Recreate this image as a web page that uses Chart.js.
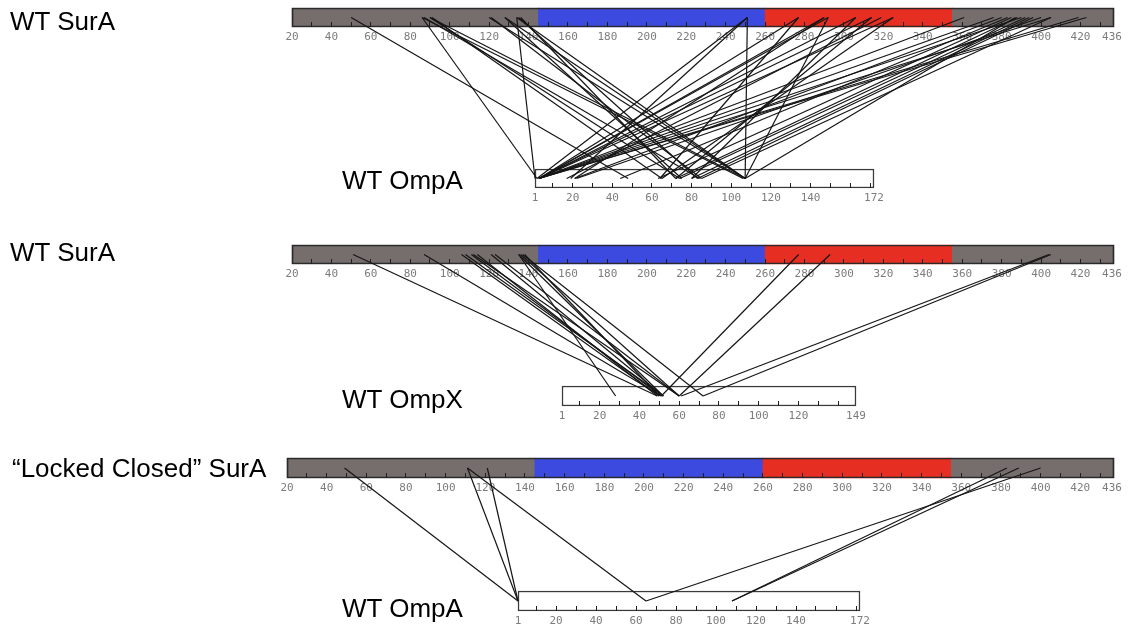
<!DOCTYPE html>
<html>
<head>
<meta charset="utf-8">
<title>SurA crosslinks</title>
<script src="https://cdn.jsdelivr.net/npm/chart.js@4"></script>
<style>
  html, body { margin: 0; padding: 0; background: #fff; }
  #wrap { position: relative; width: 1129px; height: 629px; overflow: hidden; }
  #map { position: absolute; left: 0; top: 0; }
  .name { position: absolute; font-family: "Liberation Sans", Arial, sans-serif; font-size: 26px; line-height: 26px; color: #000; white-space: nowrap; }
</style>
</head>
<body>
<div id="wrap">
  <canvas id="map" width="1129" height="629"></canvas>
  <div class="name" style="left:10px; top:8px">WT SurA</div>
  <div class="name" style="left:342px; top:167px">WT OmpA</div>
  <div class="name" style="left:10px; top:239px">WT SurA</div>
  <div class="name" style="left:342px; top:386px">WT OmpX</div>
  <div class="name" style="left:12px; top:455px">“Locked Closed” SurA</div>
  <div class="name" style="left:342px; top:595px">WT OmpA</div>
</div>
<script>
// residue ranges of the constructs
const surARange = [20, 437];
const ompARange = [1, 172];
const ompXRange = [1, 149];

// SurA domain boundaries: N-term | P1 | P2 | C-term
const surADomains = [20, 145, 260, 355, 437];

// axis labels
const surATickLabels = [20, 40, 60, 80, 100, 120, 140, 160, 180, 200, 220, 240, 260, 280, 300, 320, 340, 360, 380, 400, 420, 436];
const ompATickLabels = [1, 20, 40, 60, 80, 100, 120, 140, 172];
const ompXTickLabels = [1, 20, 40, 60, 80, 100, 120, 149];

// crosslinks as [SurA residue, client residue]
const wtSurA_ompA = [
  [50, 48], [86, 2], [86, 106], [87, 84], [90, 107], [90, 74], [91, 65],
  [120, 107], [121, 85], [128, 107], [128, 75], [134, 1], [134, 107], [135, 83], [136, 72],
  [251, 107], [251, 2], [251, 19], [277, 3], [277, 64], [290, 3], [290, 21], [292, 3], [292, 107],
  [306, 3], [306, 80], [314, 3], [314, 72], [319, 17], [325, 3], [325, 65], [361, 3],
  [376, 3], [380, 21], [383, 44], [385, 63], [387, 107], [388, 72], [390, 3], [392, 74],
  [394, 80], [396, 83], [400, 22], [405, 3], [405, 85], [419, 3], [423, 3]
];
const wtSurA_ompX = [
  [51, 49], [87, 51], [106, 50], [108, 52], [111, 51], [112, 60], [114, 49], [121, 52],
  [123, 60], [135, 28], [135, 52], [136, 60], [137, 72], [138, 50], [277, 51], [293, 60],
  [404, 61], [405, 72]
];
const closedSurA_ompA = [
  [49, 1], [111, 1], [111, 65], [121, 1], [383, 108], [389, 108], [400, 65]
];

const W = 1129, H = 629;
const domainColors = ['#756e6c', '#3c4ae0', '#e62e22', '#756e6c'];

// where each bar sits on the page (px)
const tracks = {
  xSurA1: { range: surARange, left: 292, right: 1114, top: 8, bottom: 27, labels: surATickLabels },
  xOmpA1: { range: ompARange, left: 535, right: 874, top: 169, bottom: 188, labels: ompATickLabels },
  xSurA2: { range: surARange, left: 292, right: 1114, top: 245, bottom: 264, labels: surATickLabels },
  xOmpX2: { range: ompXRange, left: 562, right: 856, top: 386, bottom: 406, labels: ompXTickLabels },
  xSurA3: { range: surARange, left: 287, right: 1114, top: 458, bottom: 478, labels: surATickLabels },
  xOmpA3: { range: ompARange, left: 518, right: 860, top: 591, bottom: 611, labels: ompATickLabels }
};
const panels = [
  { top: 'xSurA1', bottom: 'xOmpA1', links: wtSurA_ompA },
  { top: 'xSurA2', bottom: 'xOmpX2', links: wtSurA_ompX },
  { top: 'xSurA3', bottom: 'xOmpA3', links: closedSurA_ompA }
];

const TICK = 5;

function mid(t) { return (t.top + t.bottom) / 2; }

// minor tick marks every 10 residues inside the bar
function tickMarks(range) {
  const out = [];
  for (let v = Math.ceil((range[0] + 1) / 10) * 10; v < range[1]; v += 10) out.push(v);
  return out;
}

function makeScale(t) {
  const [lo, hi] = t.range;
  const per = (hi - lo) / (t.right - t.left);
  const marks = tickMarks(t.range);
  const all = Array.from(new Set(marks.concat(t.labels))).sort((a, b) => a - b);
  return {
    type: 'linear',
    axis: 'x',
    min: lo - t.left * per,
    max: hi + (W - t.right) * per,
    offset: false,
    position: { y: t.bottom - TICK },
    afterBuildTicks: s => { s.ticks = all.map(v => ({ value: v })); },
    // the axes sit inside the plot, so they must not eat layout space
    afterFit: s => {
      s.height = 0;
      s.paddingTop = s.paddingBottom = s.paddingLeft = s.paddingRight = 0;
    },
    border: { display: false },
    grid: {
      drawOnChartArea: false,
      drawTicks: true,
      tickLength: TICK,
      lineWidth: 1,
      z: 1,
      color: c => (c.tick && marks.includes(c.tick.value)) ? '#1e1e1e' : 'rgba(0,0,0,0)'
    },
    ticks: {
      autoSkip: false,
      maxRotation: 0,
      minRotation: 0,
      padding: 4,
      color: '#7c7c7c',
      font: { family: 'DejaVu Sans Mono', size: 11 },
      callback: v => t.labels.includes(v) ? String(v) : ''
    }
  };
}

// vertical page axis; bars are placed on it by their centre line
const scales = {
  y: { type: 'linear', display: false, min: 0, max: H, reverse: true, offset: false, grid: { offset: false } }
};
const datasets = [];
Object.entries(tracks).forEach(([id, t]) => {
  scales[id] = makeScale(t);
  const h = t.bottom - t.top;
  const isSurA = t.range === surARange;
  if (isSurA) {
    const segs = [];
    for (let i = 0; i < surADomains.length - 1; i++) {
      segs.push({ x: [surADomains[i], surADomains[i + 1]], y: mid(t) });
    }
    datasets.push({
      label: id + ' domains', xAxisID: id, yAxisID: 'y', data: segs,
      backgroundColor: domainColors, borderWidth: 0, barThickness: h, grouped: false, order: 3
    });
  }
  datasets.push({
    label: id, xAxisID: id, yAxisID: 'y',
    data: [{ x: t.range, y: mid(t) }],
    backgroundColor: isSurA ? 'rgba(0,0,0,0)' : '#ffffff',
    borderColor: isSurA ? '#2a2a2a' : '#3a3a3a',
    borderWidth: isSurA ? 1 : 1.5,
    borderSkipped: false,
    barThickness: h, grouped: false, order: 2
  });
});

// straight lines from the SurA residue to the client residue
const crosslinks = {
  id: 'crosslinks',
  afterDatasetsDraw(chart) {
    const ctx = chart.ctx, y = chart.scales.y;
    ctx.save();
    ctx.strokeStyle = '#151515';
    ctx.lineWidth = 1.2;
    panels.forEach(p => {
      const a = chart.scales[p.top], b = chart.scales[p.bottom];
      const y1 = y.getPixelForValue(mid(tracks[p.top]));
      const y2 = y.getPixelForValue(mid(tracks[p.bottom]));
      p.links.forEach(([ra, rb]) => {
        ctx.beginPath();
        ctx.moveTo(a.getPixelForValue(ra), y1);
        ctx.lineTo(b.getPixelForValue(rb), y2);
        ctx.stroke();
      });
    });
    ctx.restore();
  }
};

new Chart(document.getElementById('map'), {
  type: 'bar',
  data: { datasets },
  options: {
    indexAxis: 'y',
    responsive: false,
    animation: false,
    events: [],
    devicePixelRatio: 1,
    layout: { padding: 0 },
    plugins: { legend: { display: false }, tooltip: { enabled: false }, title: { display: false } },
    scales
  },
  plugins: [crosslinks]
});
</script>
</body>
</html>
